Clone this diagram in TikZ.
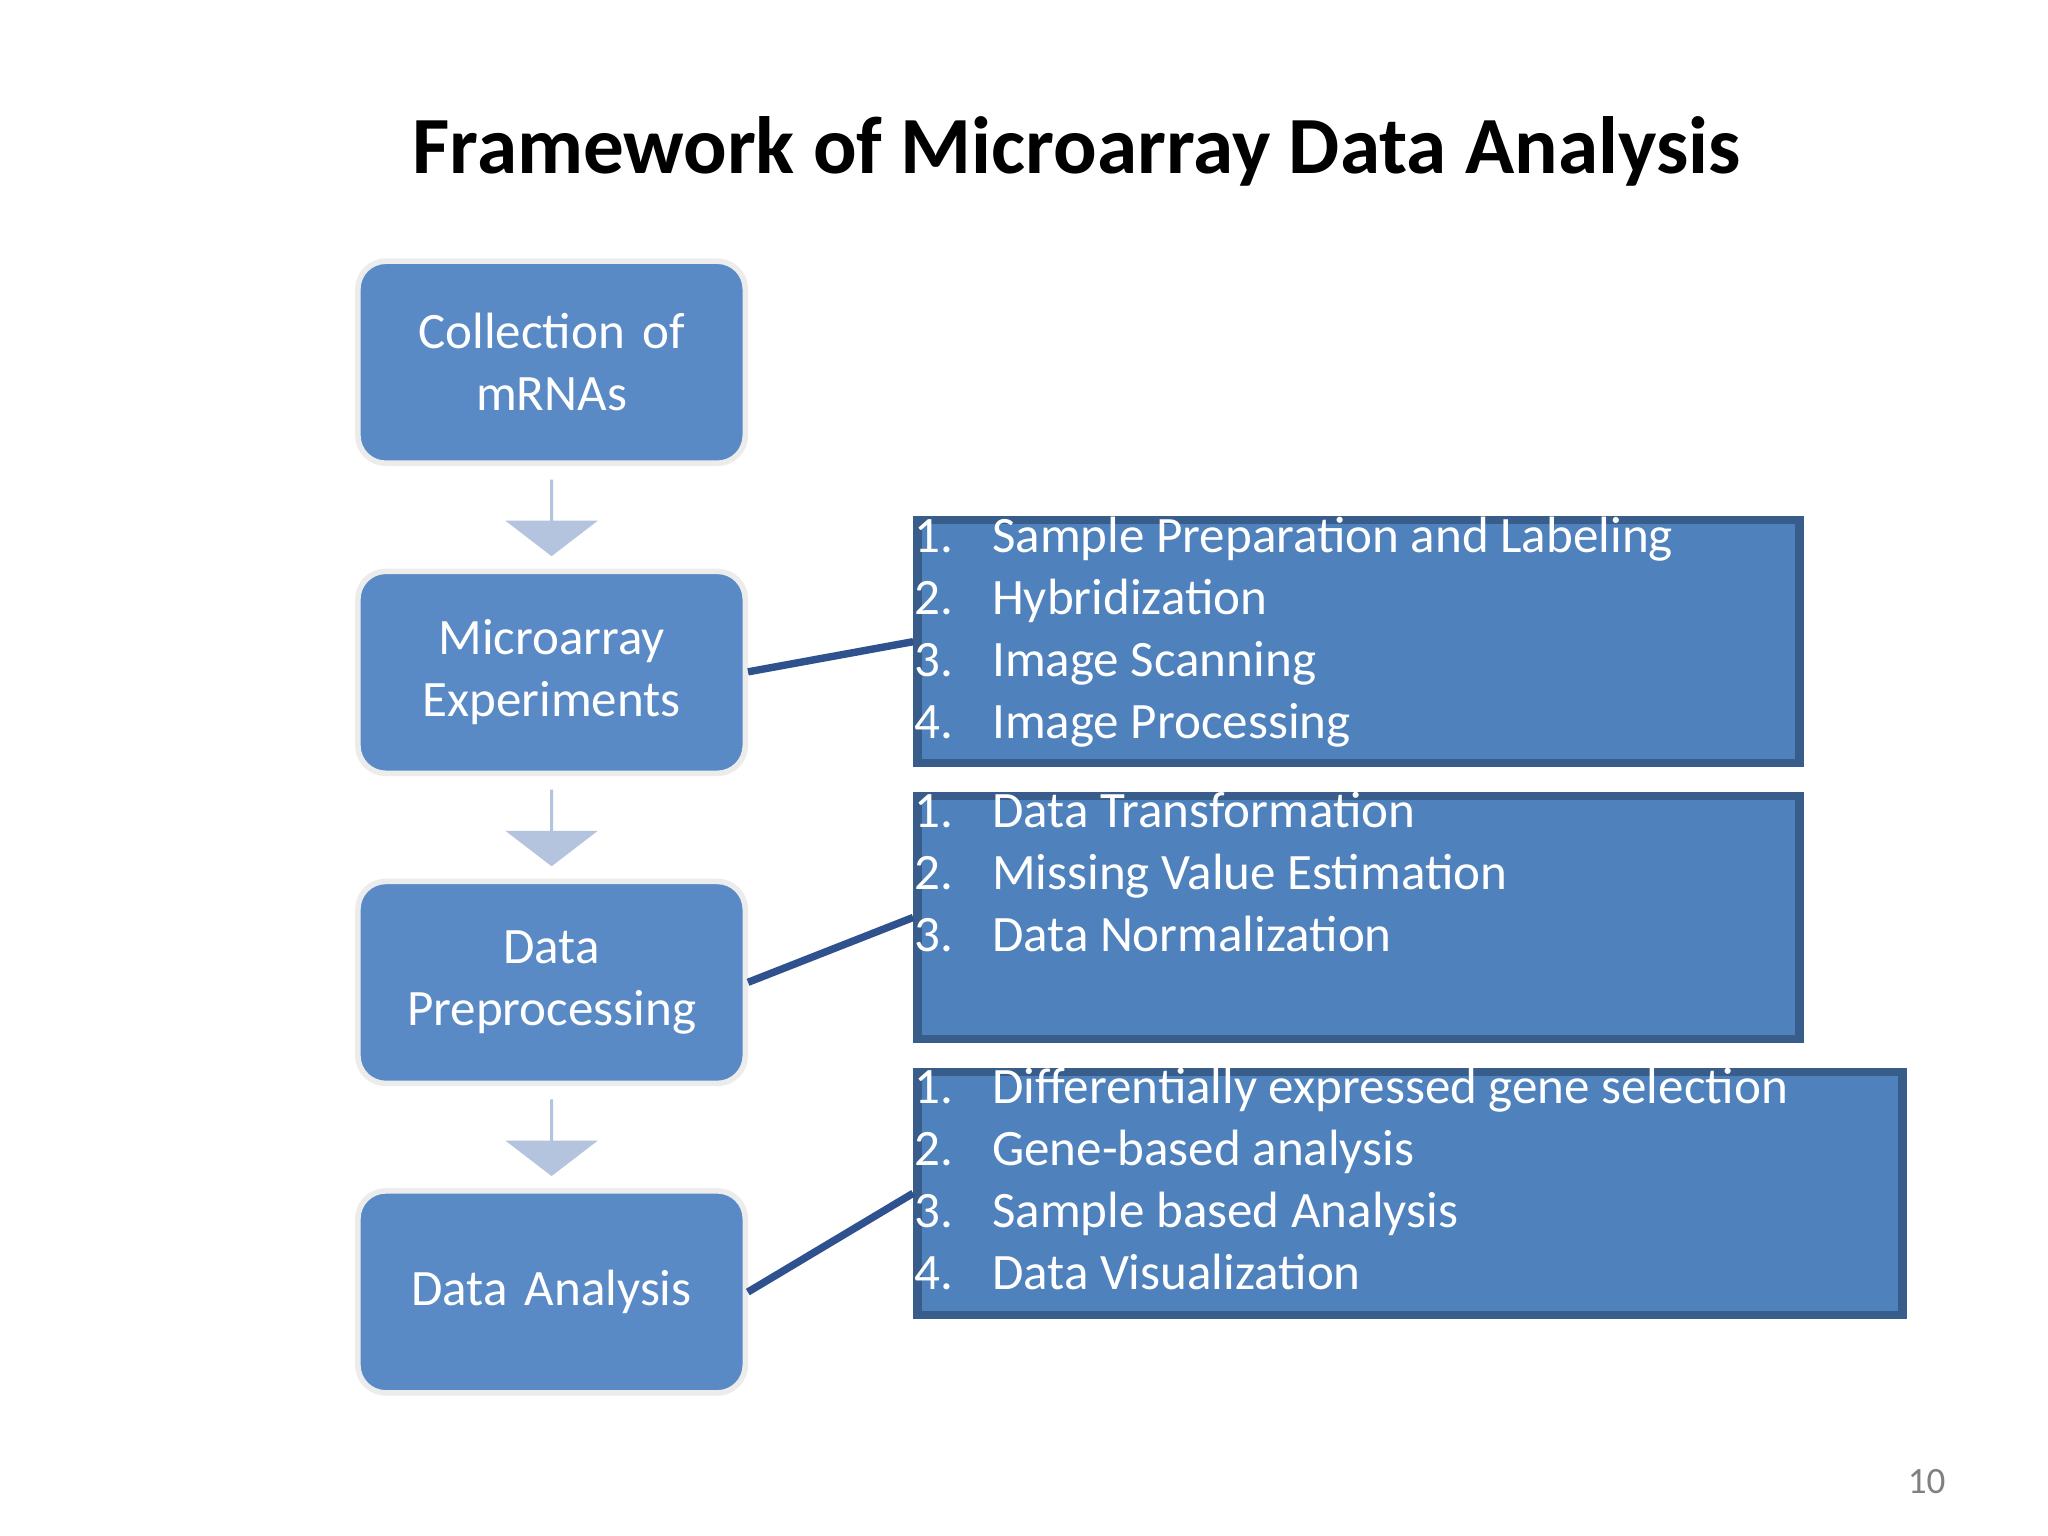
\documentclass[tikz,border=0pt]{standalone}
\usepackage{fontspec}
\setmainfont{Carlito}
\usetikzlibrary{positioning,calc,shapes.arrows}
\definecolor{stepblue}{HTML}{5A8AC6}
\definecolor{listblue}{HTML}{4F81BD}
\definecolor{listedge}{HTML}{385D8A}
\definecolor{linkblue}{HTML}{2F528F}
\definecolor{arrowgray}{HTML}{B4C3DE}
\tikzset{
    %Define style for the step boxes
    stepbox/.style={
           rectangle,
           rounded corners=6pt,
           fill=stepblue,
           draw=gray!15, line width=1.2pt,
           minimum width=2.78cm,
           minimum height=1.53cm,
           text width=2.7cm,
           align=center,
           text=white,
           font=\fontsize{11}{13.3}\selectfont},
    % Define style for the list boxes
    listbox/.style={
           rectangle,
           fill=listblue,
           draw=listedge, line width=1.8pt,
           minimum height=1.84cm,
           anchor=north west},
    listtext/.style={
           anchor=north west,
           inner sep=0pt,
           align=left,
           text=white,
           font=\fontsize{11}{13.35}\selectfont},
    % Define down arrow and link style
    downarrow/.style={
           single arrow,
           shape border rotate=270,
           fill=arrowgray,
           inner sep=0pt,
           minimum height=0.58cm,
           minimum width=0.7cm,
           single arrow head extend=0.2cm,
           single arrow tip angle=105},
    link/.style={
           draw=linkblue,
           line width=1.6pt}
}
\newcommand{\itm}[2]{\makebox[0.59cm][l]{#1}#2}

\begin{document}
\begin{tikzpicture}[x=0.01cm,y=-0.01cm]
 \useasboundingbox[fill=white] (0,0) rectangle (1552,1164);
 %title
    \node[font=\fontsize{17.5}{20}\selectfont\bfseries] (title) at (816,115) {Framework of Microarray Data Analysis};
 %steps
    \node[stepbox] (col) at (418,274.5) {Collection of\\mRNAs};
    \node[stepbox] (exp) at (418,509.5) {Microarray\\Experiments};
    \node[stepbox] (pre) at (418,744.5) {Data\\Preprocessing};
    \node[stepbox] (ana) at (418,979) {Data Analysis};
 %arrows
    \foreach \a/\b in {col/exp, exp/pre, pre/ana}
        \path (\a.south) -- (\b.north) node[midway, downarrow] {};
 %lists
    \node[listbox, minimum width=6.68cm] (prep) at (692,391) {};
    \node[listtext] at ($(prep.north west)+(0.16,-0.12)$)
        {\itm{1.}{Sample Preparation and Labeling}\\\itm{2.}{Hybridization}\\\itm{3.}{Image Scanning}\\\itm{4.}{Image Processing}};
    \node[listbox, minimum width=6.68cm] (norm) at (692,600) {};
    \node[listtext] at ($(norm.north west)+(0.16,-0.12)$)
        {\itm{1.}{Data Transformation}\\\itm{2.}{Missing Value Estimation}\\\itm{3.}{Data Normalization}};
    \node[listbox, minimum width=7.46cm] (meth) at (692,809) {};
    \node[listtext] at ($(meth.north west)+(0.16,-0.12)$)
        {\itm{1.}{Differentially expressed gene selection}\\\itm{2.}{Gene-based analysis}\\\itm{3.}{Sample based Analysis}\\\itm{4.}{Data Visualization}};
 %links
    \draw[link] ($(exp.east)+(-0.05,-0.37)$) -- ($(prep.west)+(0,0.05)$);
    \draw[link] ($(pre.east)+(-0.05,-0.1)$) -- ($(norm.west)+(0,0.04)$);
    \draw[link] ($(ana.east)+(-0.22,0.14)$) -- ($(meth.west)+(0,0.04)$);
 %page number
    \node[text=gray, font=\fontsize{8}{9}\selectfont] (page) at (1460,1123) {10};
\end{tikzpicture}
\end{document}
